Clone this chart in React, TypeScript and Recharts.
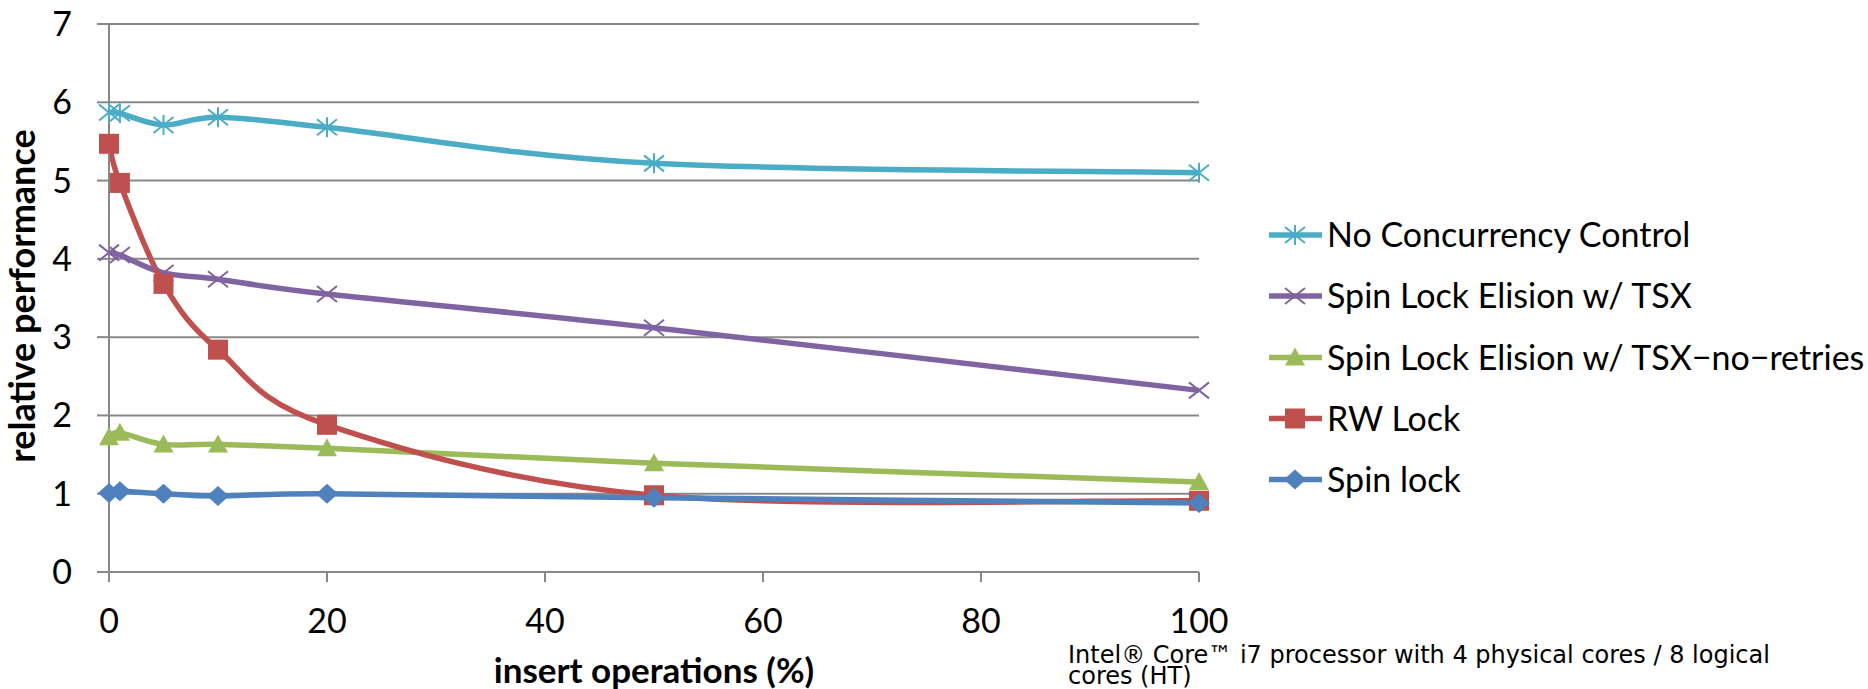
import React from "react";
import { LineChart, Line, XAxis, YAxis, CartesianGrid } from "recharts";

// insert operations (%) on the x axis
const INSERT_PCT = [0, 1, 5, 10, 20, 50, 100];

// relative performance per series
const NO_CC = [5.87, 5.86, 5.71, 5.81, 5.68, 5.22, 5.1];
const ELISION_TSX = [4.08, 4.05, 3.82, 3.74, 3.55, 3.12, 2.32];
const ELISION_NO_RETRIES = [1.72, 1.78, 1.63, 1.63, 1.58, 1.39, 1.15];
const RW_LOCK = [5.47, 4.97, 3.68, 2.84, 1.88, 0.98, 0.91];
const SPIN_LOCK = [1.01, 1.03, 1.0, 0.97, 1.0, 0.95, 0.88];

const X_TICKS = [0, 20, 40, 60, 80, 100];
const Y_TICKS = [0, 1, 2, 3, 4, 5, 6, 7];

type MarkerKind = "asterisk" | "cross" | "triangle" | "square" | "diamond";

const SERIES: { key: string; label: string; color: string; marker: MarkerKind; values: number[] }[] = [
  { key: "noCC", label: "No Concurrency Control", color: "#4BACC6", marker: "asterisk", values: NO_CC },
  { key: "tsx", label: "Spin Lock Elision w/ TSX", color: "#8064A2", marker: "cross", values: ELISION_TSX },
  { key: "tsxNr", label: "Spin Lock Elision w/ TSX\u2212no\u2212retries", color: "#9BBB59", marker: "triangle", values: ELISION_NO_RETRIES },
  { key: "rw", label: "RW Lock", color: "#C0504D", marker: "square", values: RW_LOCK },
  { key: "spin", label: "Spin lock", color: "#4F81BD", marker: "diamond", values: SPIN_LOCK },
];

const rows = INSERT_PCT.map((x, i) => {
  const row: Record<string, number> = { x };
  SERIES.forEach((s) => (row[s.key] = s.values[i]));
  return row;
});

const GRID = "#888888";
const FONT = "Lato, 'Open Sans', sans-serif";

// Excel-like smoothed line (cardinal spline through every point)
const excelSmooth = (context: any) => {
  let pts: number[][] = [];
  return {
    areaStart() {},
    areaEnd() {},
    lineStart() {
      pts = [];
    },
    point(x: number, y: number) {
      pts.push([+x, +y]);
    },
    lineEnd() {
      const n = pts.length;
      if (!n) return;
      context.moveTo(pts[0][0], pts[0][1]);
      for (let i = 0; i < n - 1; i++) {
        const p0 = pts[Math.max(i - 1, 0)];
        const p1 = pts[i];
        const p2 = pts[i + 1];
        const p3 = pts[Math.min(i + 2, n - 1)];
        context.bezierCurveTo(
          p1[0] + (p2[0] - p0[0]) / 6,
          p1[1] + (p2[1] - p0[1]) / 6,
          p2[0] - (p3[0] - p1[0]) / 6,
          p2[1] - (p3[1] - p1[1]) / 6,
          p2[0],
          p2[1]
        );
      }
    },
  };
};

function Marker({ kind, cx, cy, color }: { kind: MarkerKind; cx: number; cy: number; color: string }) {
  const r = 10;
  if (kind === "square") {
    return <rect x={cx - r} y={cy - r} width={2 * r} height={2 * r} fill={color} />;
  }
  if (kind === "diamond") {
    return <polygon points={`${cx},${cy - r} ${cx + r + 1},${cy} ${cx},${cy + r} ${cx - r - 1},${cy}`} fill={color} />;
  }
  if (kind === "triangle") {
    return <polygon points={`${cx},${cy - r} ${cx + r},${cy + 8} ${cx - r},${cy + 8}`} fill={color} />;
  }
  const d = 10;
  return (
    <g stroke={color} strokeWidth={2}>
      <line x1={cx - d} y1={cy - d * 0.8} x2={cx + d} y2={cy + d * 0.8} />
      <line x1={cx - d} y1={cy + d * 0.8} x2={cx + d} y2={cy - d * 0.8} />
      {kind === "asterisk" && <line x1={cx} y1={cy - d} x2={cx} y2={cy + d} />}
    </g>
  );
}

const LEGEND_Y = [235, 296, 357.5, 418.5, 479.5];

export default function App() {
  return (
    <div style={{ position: "absolute", left: 0, top: 0, width: 1868, height: 689, background: "#fff", overflow: "hidden" }}>
      <LineChart width={1868} height={689} data={rows} margin={{ top: 24, right: 669, bottom: 0, left: 0 }}>
        <CartesianGrid vertical={false} stroke={GRID} strokeWidth={2} />
        <XAxis
          dataKey="x"
          type="number"
          domain={[0, 100]}
          ticks={X_TICKS}
          height={117}
          axisLine={{ stroke: GRID, strokeWidth: 2 }}
          tickLine={{ stroke: GRID, strokeWidth: 2 }}
          tickSize={10}
          tickMargin={27}
          tick={{ fill: "#000", fontSize: 34, fontFamily: FONT }}
        />
        <YAxis
          type="number"
          domain={[0, 7]}
          ticks={Y_TICKS}
          width={109}
          axisLine={{ stroke: GRID, strokeWidth: 2 }}
          tickLine={{ stroke: GRID, strokeWidth: 2 }}
          tickSize={12}
          tickMargin={25}
          tick={{ fill: "#000", fontSize: 34, fontFamily: FONT }}
        />
        {SERIES.map((s) => (
          <Line
            key={s.key}
            dataKey={s.key}
            type={excelSmooth as any}
            stroke={s.color}
            strokeWidth={5.5}
            isAnimationActive={false}
            activeDot={false}
            dot={(p: any) => <Marker key={`${s.key}-${p.index}`} kind={s.marker} cx={p.cx} cy={p.cy} color={s.color} />}
          />
        ))}
      </LineChart>

      <svg width={1868} height={689} style={{ position: "absolute", left: 0, top: 0, pointerEvents: "none" }}>
        <text
          transform="translate(35,296) rotate(-90)"
          textAnchor="middle"
          fontFamily={FONT}
          fontWeight="bold"
          fontSize={36}
          fill="#000"
        >
          relative performance
        </text>
        <text x={654} y={683} textAnchor="middle" fontFamily={FONT} fontWeight="bold" fontSize={35} fill="#000">
          insert operations (%)
        </text>
        <text fontFamily="'DejaVu Sans', Verdana, sans-serif" fontSize={24} fill="#000">
          <tspan x={1068} y={663}>
            Intel® Core™ i7 processor with 4 physical cores / 8 logical
          </tspan>
          <tspan x={1068} y={684}>
            cores (HT)
          </tspan>
        </text>
        {SERIES.map((s, i) => (
          <g key={s.key}>
            <line x1={1269} x2={1322} y1={LEGEND_Y[i]} y2={LEGEND_Y[i]} stroke={s.color} strokeWidth={5.5} />
            <Marker kind={s.marker} cx={1295} cy={LEGEND_Y[i]} color={s.color} />
            <text x={1327} y={LEGEND_Y[i] + 12} fontFamily={FONT} fontSize={34} fill="#000">
              {s.label}
            </text>
          </g>
        ))}
      </svg>
    </div>
  );
}
